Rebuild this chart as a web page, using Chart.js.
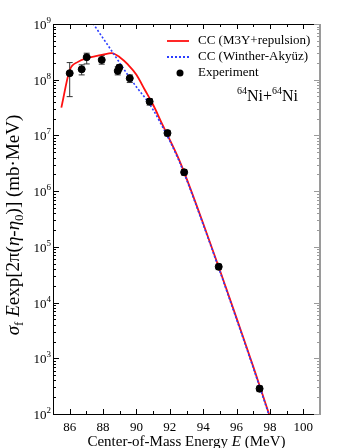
<!DOCTYPE html>
<html>
<head>
<meta charset="utf-8">
<script src="https://cdn.jsdelivr.net/npm/chart.js@4.4.1/dist/chart.umd.min.js"></script>
<style>
  html, body { margin: 0; padding: 0; background: #fff; }
  canvas { display: block; }
</style>
</head>
<body>
<canvas id="fusionChart" width="341" height="448"></canvas>
<script>
// measured points (64Ni+64Ni)
const energyExp = [86.0, 86.72, 87.02, 87.92, 88.88, 88.97, 89.6, 90.79, 91.86, 92.86, 94.93, 97.38];
const sigmaExp  = [1.31e8, 1.54e8, 2.54e8, 2.27e8, 1.44e8, 1.65e8, 1.06e8, 4.05e7, 1.1e7, 2.18e6, 4.4e4, 285];
const errHigh   = [2.03e8, 1.85e8, 2.99e8, 2.71e8, 1.70e8, 1.85e8, 1.22e8, 4.6e7, 1.23e7, 2.45e6, 4.9e4, 320];
const errLow    = [4.97e7, 1.22e8, 1.92e8, 1.90e8, 1.22e8, 1.45e8, 0.89e8, 3.5e7, 0.98e7, 1.94e6, 3.9e4, 252];

// CC (M3Y+repulsion)
const energyM3Y = [85.5, 86.0, 86.5, 87.0, 87.5, 88.0, 88.5, 89.0, 89.5, 90.0, 90.5, 91.0, 91.5, 92.0, 92.5, 93.0, 94.0, 95.0, 96.0, 97.0, 98.0];
const sigmaM3Y  = [3.16e7, 1.48e8, 2.09e8, 2.43e8, 2.63e8, 2.82e8, 2.99e8, 2.54e8, 1.86e8, 1.23e8, 6.61e7, 3.55e7, 1.70e7, 8.32e6, 3.98e6, 1.70e6, 2.63e5, 3.80e4, 5.25e3, 708, 89];

// CC (Winther-Akyuz)
const energyWA = [87.0, 87.5, 88.0, 88.5, 89.0, 89.5, 90.0, 90.5, 91.0, 91.5, 92.0, 92.5, 93.0, 94.0, 95.0, 96.0, 97.0, 98.0];
const sigmaWA  = [1.55e9, 9.23e8, 5.56e8, 3.35e8, 2.0e8, 1.2e8, 7.41e7, 4.79e7, 2.88e7, 1.55e7, 7.94e6, 3.8e6, 1.62e6, 2.51e5, 3.63e4, 5.01e3, 676, 85];

const xTickLabels = [86, 88, 90, 92, 94, 96, 98, 100];
const yTickExponents = [2, 3, 4, 5, 6, 7, 8, 9];

const SERIF = '"Liberation Serif", "DejaVu Serif", serif';

function toPoints(xs, ys) {
    return xs.map(function(x, i) { return { x: x, y: ys[i] }; });
}

function drawSegments(ctx, segs, x, y) {
    // segs: [text, size, style, dy]
    let cx = x;
    segs.forEach(function(s) {
        ctx.font = (s[2] || '') + ' ' + s[1] + 'px ' + SERIF;
        ctx.fillText(s[0], cx, y + (s[3] || 0));
        cx += ctx.measureText(s[0]).width;
    });
    return cx;
}

function segWidth(ctx, segs) {
    let w = 0;
    segs.forEach(function(s) {
        ctx.font = (s[2] || '') + ' ' + s[1] + 'px ' + SERIF;
        w += ctx.measureText(s[0]).width;
    });
    return w;
}

const errorBars = {
    id: 'errorBars',
    beforeDatasetsDraw: function(chart) {
        const ctx = chart.ctx;
        const xs = chart.scales.x, ys = chart.scales.y;
        ctx.save();
        ctx.strokeStyle = '#333';
        ctx.lineWidth = 1;
        energyExp.forEach(function(e, i) {
            const px = xs.getPixelForValue(e);
            const top = ys.getPixelForValue(errHigh[i]);
            const bot = ys.getPixelForValue(errLow[i]);
            ctx.beginPath();
            ctx.moveTo(px, top); ctx.lineTo(px, bot);
            ctx.moveTo(px - 3, top); ctx.lineTo(px + 3, top);
            ctx.moveTo(px - 3, bot); ctx.lineTo(px + 3, bot);
            ctx.stroke();
        });
        ctx.restore();
    }
};

const decorations = {
    id: 'decorations',
    afterDraw: function(chart) {
        const ctx = chart.ctx;
        const a = chart.chartArea;
        const xs = chart.scales.x, ys = chart.scales.y;
        ctx.save();

        // frame
        ctx.lineWidth = 1;
        ctx.strokeStyle = '#000';
        ctx.beginPath();
        ctx.moveTo(a.right, a.top + 0.5); ctx.lineTo(a.left + 0.5, a.top + 0.5);
        ctx.lineTo(a.left + 0.5, a.bottom + 0.5); ctx.lineTo(a.right, a.bottom + 0.5);
        ctx.stroke();
        ctx.strokeStyle = '#9a9a9a';
        ctx.lineWidth = 2;
        ctx.beginPath();
        ctx.moveTo(a.right, a.top); ctx.lineTo(a.right, a.bottom + 1);
        ctx.stroke();

        // x ticks (inward, top and bottom)
        ctx.lineWidth = 1;
        ctx.strokeStyle = '#000';
        ctx.beginPath();
        for (let e = 86; e <= 100; e++) {
            const px = Math.round(xs.getPixelForValue(e)) + 0.5;
            const len = xTickLabels.indexOf(e) >= 0 ? 5 : 3;
            ctx.moveTo(px, a.bottom); ctx.lineTo(px, a.bottom - len);
            ctx.moveTo(px, a.top); ctx.lineTo(px, a.top + len);
        }
        ctx.stroke();

        // y ticks (inward, left black / right grey)
        const yTicks = [];
        for (let d = yTickExponents[0]; d <= yTickExponents[yTickExponents.length - 1]; d++) {
            for (let m = 1; m <= 9; m++) {
                const v = m * Math.pow(10, d);
                if (v > 1e9) break;
                yTicks.push({ y: Math.round(ys.getPixelForValue(v)) + 0.5, major: m === 1 });
            }
        }
        ctx.beginPath();
        yTicks.forEach(function(t) {
            ctx.moveTo(a.left, t.y); ctx.lineTo(a.left + (t.major ? 6 : 3), t.y);
        });
        ctx.stroke();
        ctx.strokeStyle = '#9a9a9a';
        ctx.beginPath();
        yTicks.forEach(function(t) {
            ctx.moveTo(a.right, t.y); ctx.lineTo(a.right - (t.major ? 6 : 3), t.y);
        });
        ctx.stroke();

        // tick labels
        ctx.fillStyle = '#000';
        ctx.textBaseline = 'alphabetic';
        ctx.textAlign = 'center';
        ctx.font = '13px ' + SERIF;
        xTickLabels.forEach(function(e) {
            ctx.fillText(String(e), xs.getPixelForValue(e), a.bottom + 17);
        });
        ctx.textAlign = 'left';
        yTickExponents.forEach(function(n) {
            const py = ys.getPixelForValue(Math.pow(10, n));
            const segs = [['10', 13, '', 0], [String(n), 9, '', -6]];
            const w = segWidth(ctx, segs);
            drawSegments(ctx, segs, a.left - 12 - w + 10, py + 5);
        });

        // x axis title
        const xTitle = [['Center-of-Mass Energy ', 15, ''], ['E', 15, 'italic'], [' (MeV)', 15, '']];
        const xw = segWidth(ctx, xTitle);
        drawSegments(ctx, xTitle, (a.left + a.right) / 2 - xw / 2, a.bottom + 32);

        // y axis title
        const yTitle = [
            ['\u03C3', 19, 'italic', 0], ['f', 13, '', 4], [' ', 19, '', 0], ['E', 19, 'italic', 0],
            ['exp[2\u03C0(', 19, '', 0], ['\u03B7', 19, 'italic', 0], ['-', 19, '', 0],
            ['\u03B7', 19, 'italic', 0], ['0', 13, '', 4], [')] (mb\u00B7MeV)', 19, '', 0]
        ];
        const yw = segWidth(ctx, yTitle);
        ctx.save();
        ctx.translate(19, 225);
        ctx.rotate(-Math.PI / 2);
        drawSegments(ctx, yTitle, -yw / 2, 0);
        ctx.restore();

        // legend
        const lx0 = 167, lx1 = 189, tx = 198;
        ctx.lineWidth = 1.8;
        ctx.strokeStyle = '#ff1010';
        ctx.beginPath(); ctx.moveTo(lx0, 41); ctx.lineTo(lx1, 41); ctx.stroke();
        ctx.strokeStyle = '#2a3cff';
        ctx.setLineDash([2, 2]);
        ctx.beginPath(); ctx.moveTo(lx0, 57); ctx.lineTo(lx1, 57); ctx.stroke();
        ctx.setLineDash([]);
        ctx.fillStyle = '#000';
        ctx.beginPath(); ctx.arc(180, 73, 3.5, 0, Math.PI * 2); ctx.fill();
        ctx.font = '13px ' + SERIF;
        ctx.textBaseline = 'middle';
        ctx.fillText('CC (M3Y+repulsion)', tx, 41);
        ctx.fillText('CC (Winther-Aky\u00FCz)', tx, 57);
        ctx.fillText('Experiment', tx, 73);

        // reaction label
        ctx.textBaseline = 'alphabetic';
        drawSegments(ctx, [['64', 10, '', -7], ['Ni+', 16, ''], ['64', 10, '', -7], ['Ni', 16, '']], 237, 101);

        ctx.restore();
    }
};

new Chart(document.getElementById('fusionChart'), {
    type: 'scatter',
    data: {
        datasets: [
            {
                label: 'CC (M3Y+repulsion)',
                data: toPoints(energyM3Y, sigmaM3Y),
                showLine: true,
                borderColor: '#ff1010',
                borderWidth: 1.8,
                pointRadius: 0,
                cubicInterpolationMode: 'monotone',
                order: 3
            },
            {
                label: 'CC (Winther-Akyüz)',
                data: toPoints(energyWA, sigmaWA),
                showLine: true,
                borderColor: '#2a3cff',
                borderWidth: 1.6,
                borderDash: [2, 2],
                pointRadius: 0,
                cubicInterpolationMode: 'monotone',
                order: 2
            },
            {
                label: 'Experiment',
                data: toPoints(energyExp, sigmaExp),
                backgroundColor: '#000',
                borderColor: '#000',
                pointRadius: 3.5,
                pointHoverRadius: 3.5,
                order: 1
            }
        ]
    },
    options: {
        responsive: false,
        animation: false,
        layout: { padding: { left: 53, right: 21, top: 24, bottom: 34 } },
        plugins: {
            legend: { display: false },
            tooltip: { enabled: false }
        },
        scales: {
            x: { type: 'linear', min: 85, max: 101, display: false },
            y: { type: 'logarithmic', min: 100, max: 1e9, display: false }
        }
    },
    plugins: [errorBars, decorations]
});
</script>
</body>
</html>
